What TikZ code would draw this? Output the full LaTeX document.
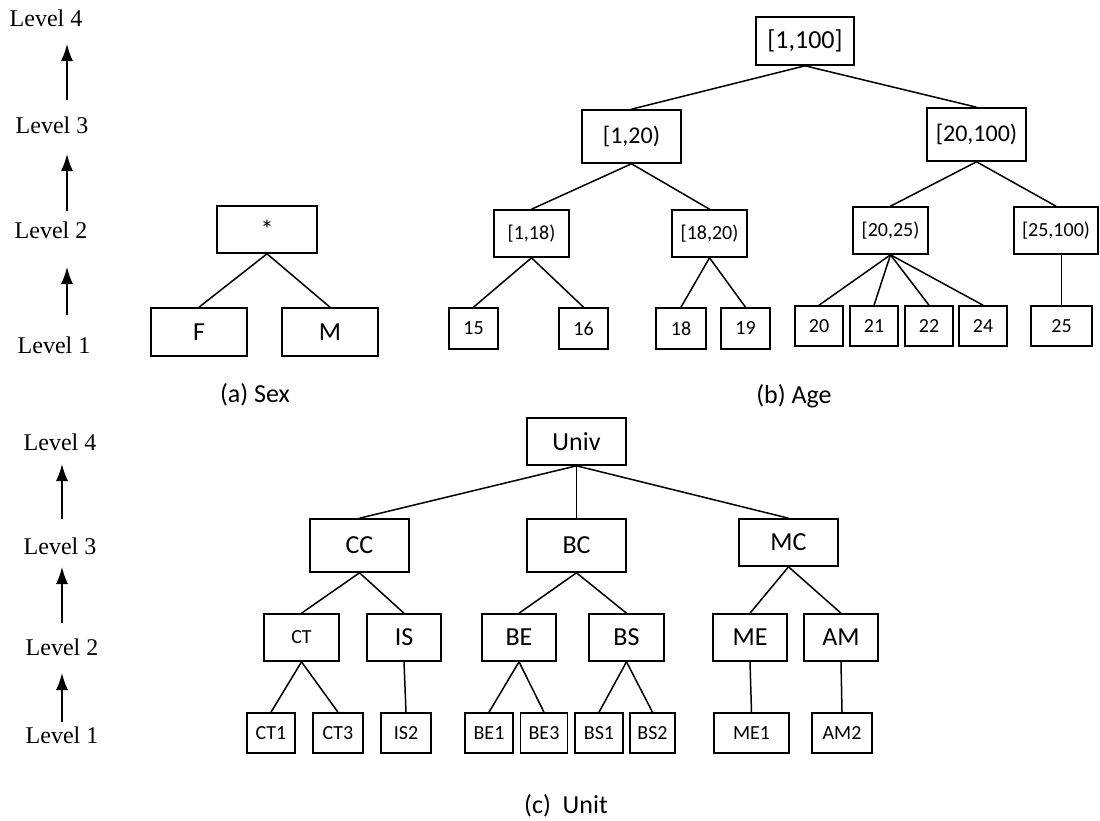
\documentclass[tikz,border=0pt]{standalone}
\usepackage{fontspec}
\setmainfont{Liberation Serif}
\newfontfamily\boxfont{Carlito}
\usetikzlibrary{arrows.meta}

\tikzset{
	box/.style={draw, line width=1.6pt, inner sep=0pt, align=center},
	bigtxt/.style={font=\boxfont\fontsize{26}{30}\selectfont},
	midtxt/.style={font=\boxfont\fontsize{24}{28}\selectfont},
	smalltxt/.style={font=\boxfont\fontsize{20}{24}\selectfont},
	lvl/.style={font=\fontsize{24}{28}\selectfont, inner sep=0pt},
	edge/.style={line width=1.5pt},
	lvlarrow/.style={line width=1.5pt, -{Latex[length=17pt,width=12pt]}},
}

\begin{document}
\begin{tikzpicture}[x=1pt, y=-1pt]
	\useasboundingbox (0,0) rectangle (1100,820);
	\def \ax{67}
	\def \bx{62}

	% level scale, top
	\node[lvl] (lvA1) at (54, 345) {Level 1};
	\node[lvl] (lvA2) at (51, 230) {Level 2};
	\node[lvl] (lvA3) at (52, 125) {Level 3};
	\node[lvl] (lvA4) at (46, 18) {Level 4};
	\coordinate (pA1) at (\ax, 315);
	\coordinate (qA1) at (\ax, 267);
	\coordinate (pA2) at (\ax, 211);
	\coordinate (qA2) at (\ax, 154);
	\coordinate (pA3) at (\ax, 100);
	\coordinate (qA3) at (\ax, 44);
	\draw[lvlarrow] (pA1) -- (qA1);
	\draw[lvlarrow] (pA2) -- (qA2);
	\draw[lvlarrow] (pA3) -- (qA3);

	% (a) Sex
	\node[box, bigtxt, minimum width=100, minimum height=47] (star) at (267, 229.5) {*};
	\node[box, bigtxt, minimum width=96, minimum height=48] (sF) at (199, 332) {F};
	\node[box, bigtxt, minimum width=96, minimum height=48] (sM) at (330, 332) {M};
	\draw[edge] (star.south) -- (sF.north);
	\draw[edge] (star.south) -- (sM.north);
	\node[bigtxt] (capA) at (255, 395) {(a) Sex};

	% (b) Age
	\node[box, bigtxt, minimum width=98, minimum height=48] (a1100) at (805, 41) {[1,100]};
	\node[box, midtxt, minimum width=99, minimum height=53] (a120) at (631.5, 136.5) {[1,20)};
	\node[box, midtxt, minimum width=99, minimum height=53] (a20100) at (976.5, 134.5) {[20,100)};
	\node[box, smalltxt, minimum width=75, minimum height=47] (a118) at (531.5, 233.5) {[1,18)};
	\node[box, smalltxt, minimum width=75, minimum height=47] (a1820) at (709.5, 233.5) {[18,20)};
	\node[box, smalltxt, minimum width=75, minimum height=47] (a2025) at (890.5, 230.5) {[20,25)};
	\node[box, smalltxt, minimum width=84, minimum height=47] (a25100) at (1056, 230.5) {[25,100)};
	\node[box, smalltxt, minimum width=49, minimum height=41] (l15) at (473.5, 328.5) {15};
	\node[box, smalltxt, minimum width=49, minimum height=41] (l16) at (583.5, 328.5) {16};
	\node[box, smalltxt, minimum width=50, minimum height=41] (l18) at (681, 328.5) {18};
	\node[box, smalltxt, minimum width=49, minimum height=41] (l19) at (745.5, 328.5) {19};
	\node[box, smalltxt, minimum width=48, minimum height=40] (l20) at (819, 326) {20};
	\node[box, smalltxt, minimum width=48, minimum height=40] (l21) at (874, 326) {21};
	\node[box, smalltxt, minimum width=48, minimum height=40] (l22) at (929, 326) {22};
	\node[box, smalltxt, minimum width=48, minimum height=40] (l24) at (983, 326) {24};
	\node[box, smalltxt, minimum width=61, minimum height=40] (l25) at (1061.5, 326) {25};
	\foreach \p/\c in {a1100/a120, a1100/a20100, a120/a118, a120/a1820,
		a20100/a2025, a20100/a25100, a118/l15, a118/l16, a1820/l18, a1820/l19,
		a2025/l20, a2025/l21, a2025/l22, a2025/l24}
		\draw[edge] (\p.south) -- (\c.north);
	\draw[edge] (l25.north) -- (l25.north |- a25100.south);
	\node[bigtxt] (capB) at (794, 396) {(b) Age};

	% level scale, bottom
	\node[lvl] (lvB1) at (62, 735) {Level 1};
	\node[lvl] (lvB2) at (62, 647) {Level 2};
	\node[lvl] (lvB3) at (60, 546) {Level 3};
	\node[lvl] (lvB4) at (60, 442) {Level 4};
	\coordinate (pB1) at (\bx, 722);
	\coordinate (qB1) at (\bx, 673);
	\coordinate (pB2) at (\bx, 623);
	\coordinate (qB2) at (\bx, 567);
	\coordinate (pB3) at (\bx, 519);
	\coordinate (qB3) at (\bx, 464);
	\draw[lvlarrow] (pB1) -- (qB1);
	\draw[lvlarrow] (pB2) -- (qB2);
	\draw[lvlarrow] (pB3) -- (qB3);

	% (c) Unit
	\node[box, bigtxt, minimum width=99, minimum height=47] (univ) at (576.5, 441.5) {Univ};
	\node[box, bigtxt, minimum width=99, minimum height=53] (cc) at (359.5, 545.5) {CC};
	\node[box, bigtxt, minimum width=99, minimum height=53] (bc) at (576.5, 545.5) {BC};
	\node[box, bigtxt, minimum width=99, minimum height=47] (mc) at (788.5, 542.5) {MC};
	\node[box, smalltxt, minimum width=75, minimum height=47] (ct) at (301.5, 637.5) {CT};
	\node[box, bigtxt, minimum width=74, minimum height=47] (is) at (404, 637.5) {IS};
	\node[box, bigtxt, minimum width=74, minimum height=47] (be) at (519, 637.5) {BE};
	\node[box, bigtxt, minimum width=75, minimum height=47] (bs) at (626.5, 637.5) {BS};
	\node[box, bigtxt, minimum width=74, minimum height=47] (me) at (750, 637.5) {ME};
	\node[box, bigtxt, minimum width=74, minimum height=47] (am) at (841, 637.5) {AM};
	\node[box, smalltxt, minimum width=48, minimum height=40] (ct1) at (271, 733) {CT1};
	\node[box, smalltxt, minimum width=50, minimum height=40] (ct3) at (338, 733) {CT3};
	\node[box, smalltxt, minimum width=50, minimum height=40] (is2) at (406, 733) {IS2};
	\node[box, smalltxt, minimum width=48, minimum height=40] (be1) at (489, 733) {BE1};
	\node[box, smalltxt, minimum width=47, minimum height=40] (be3) at (544, 733) {BE3};
	\node[box, smalltxt, minimum width=48, minimum height=40] (bs1) at (599, 733) {BS1};
	\node[box, smalltxt, minimum width=45, minimum height=40] (bs2) at (652.5, 733) {BS2};
	\node[box, smalltxt, minimum width=75, minimum height=40] (me1) at (751.5, 733) {ME1};
	\node[box, smalltxt, minimum width=60, minimum height=40] (am2) at (842, 733) {AM2};
	\foreach \p/\c in {univ/cc, univ/bc, univ/mc, cc/ct, cc/is, bc/be, bc/bs,
		mc/me, mc/am, ct/ct1, ct/ct3, is/is2, be/be1, be/be3, bs/bs1, bs/bs2,
		me/me1, am/am2}
		\draw[edge] (\p.south) -- (\c.north);
	\node[bigtxt] (capC) at (566, 806) {(c)\ \ Unit};
\end{tikzpicture}
\end{document}
